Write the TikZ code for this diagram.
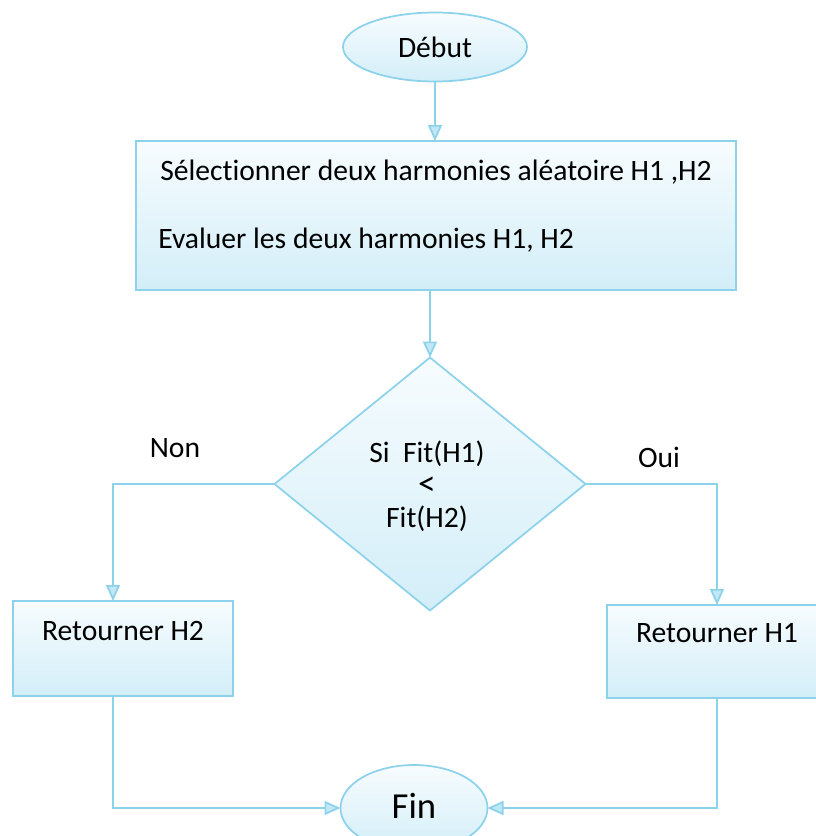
\documentclass[tikz,border=0pt]{standalone}
\usepackage{fontspec}
\setmainfont[Ligatures=NoCommon]{Carlito}
\usetikzlibrary{shapes.geometric,arrows.meta,calc}
\definecolor{edge}{HTML}{8CD2EB}
\definecolor{shadetop}{HTML}{F7FCFE}
\definecolor{shadebot}{HTML}{D3EEF8}
\definecolor{tipfill}{HTML}{BFE7F5}
\begin{document}
\begin{tikzpicture}[x=0.75pt,y=-0.75pt,
  every node/.style={font=\fontsize{22.2pt}{24.4pt}\selectfont, text=black},
  flow/.style={draw=edge, line width=1.3pt, top color=shadetop, bottom color=shadebot,
               outer sep=0pt, inner sep=0pt},
  terminal/.style={flow, ellipse},
  procbox/.style={flow, rectangle},
  decision/.style={flow, diamond},
  link/.style={draw=edge, line width=1.3pt,
               -{Triangle[length=12pt,width=10.5pt,fill=tipfill]}},
  lbl/.style={anchor=base, inner sep=0pt}
]
\useasboundingbox (0,0) rectangle (816,836);
\clip (0,0) rectangle (816,836);

% shapes
\node[terminal, minimum width=138pt, minimum height=51.75pt] (debut) at (435,47) {};
\node[procbox, minimum width=450pt, minimum height=111.75pt] (proc) at (436,215.5) {};
\node[decision, minimum width=233.25pt, minimum height=189.75pt] (dec) at (430,484) {};
\node[procbox, minimum width=165pt, minimum height=71.25pt] (ret2) at (123,648.5) {};
\node[procbox, minimum width=165pt, minimum height=69.75pt] (ret1) at (717,651.5) {};
\node[terminal, minimum width=110.25pt, minimum height=64.5pt] (fin) at (414,808) {};

% texts
\node[lbl] (tdebut) at (435,57) {Début};
\node[lbl, anchor=base west] (tsel) at (160,180) {Sélectionner deux harmonies aléatoire H1 ,H2};
\node[lbl, anchor=base west] (teval) at (158,248) {Evaluer les deux harmonies H1, H2};
\node[lbl] (tcond1) at (427,462) {Si\ \ Fit(H1)};
\node[inner sep=0pt] (tcond2) at (427,486) {\scalebox{1.2}{<}};
\node[lbl] (tcond3) at (427,527) {Fit(H2)};
\node[lbl] (tret2) at (123,640) {Retourner H2};
\node[lbl] (tret1) at (717,642) {Retourner H1};
\node[lbl, font=\fontsize{27.5pt}{30pt}\selectfont] (tfin) at (414,818) {Fin};
\node[lbl] (tnon) at (175,457) {Non};
\node[lbl] (toui) at (659,467) {Oui};

% connector ends off the box centres
\coordinate (ret2top) at ($(ret2.north)+(-10,0)$);
\coordinate (ret2bot) at ($(ret2.south)+(-10,0)$);

% connectors
\draw[link] (debut.south) -- (debut.south |- proc.north);
\draw[link] (dec.north |- proc.south) -- (dec.north);
\draw[link] (dec.west) -| (ret2top);
\draw[link] (dec.east) -| (ret1.north);
\draw[link] (ret2bot) |- (fin.west);
\draw[link] (ret1.south) |- (fin.east);
\end{tikzpicture}
\end{document}
